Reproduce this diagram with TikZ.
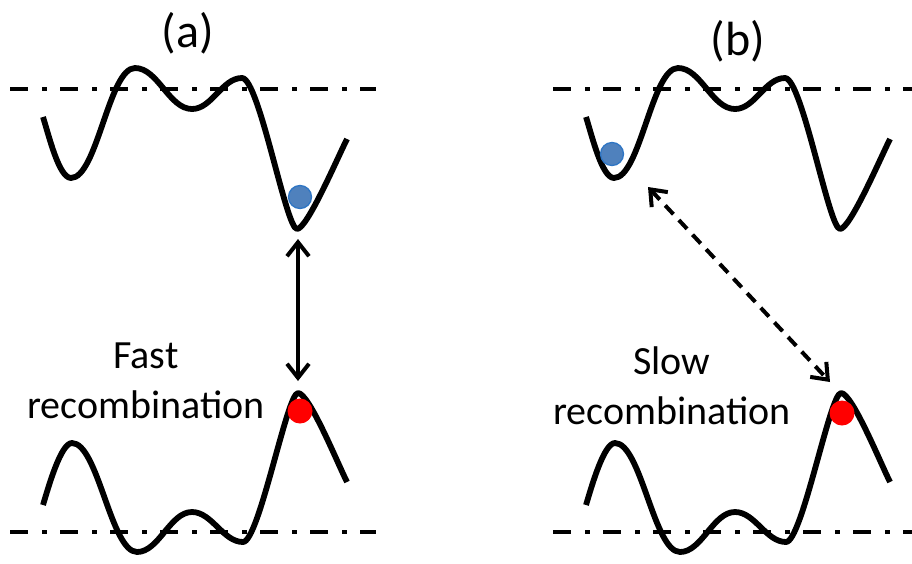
\documentclass[tikz,border=0pt]{standalone}
\usepackage{fontspec}
\setmainfont{Carlito}
\usetikzlibrary{arrows.meta}
\definecolor{dotblue}{HTML}{4F81BD}
\definecolor{dotedge}{HTML}{2E75C4}
\definecolor{dotred}{HTML}{FF0000}
\tikzset{
  curve/.style={line width=5.8pt, line join=round},
  level/.style={line width=4.2pt, dash pattern=on 18pt off 14pt on 5pt off 13pt},
  electron/.style={circle, fill=dotblue, draw=dotedge, line width=1.3pt, minimum size=23pt, inner sep=0pt},
  hole/.style={circle, fill=dotred, minimum size=25pt, inner sep=0pt},
  label/.style={font=\fontsize{40}{40}\selectfont, anchor=base, inner sep=0pt},
  title/.style={font=\fontsize{48}{48}\selectfont, anchor=base, inner sep=0pt},
  barb/.style={{Straight Barb[length=14pt,width=22pt]}-{Straight Barb[length=14pt,width=22pt]}, line width=4pt},
}
\begin{document}
\begin{tikzpicture}[x=1pt,y=-1pt]
\useasboundingbox (0,0) rectangle (912,563);
% level lines
\draw[level] (10,89) -- (376,89);
\draw[level] (10,532) -- (376,532);
\draw[level] (553,89) -- (912,89);
\draw[level] (553,532) -- (912,532);
% curves (a) and (b)
\foreach \s in {0,543}{
\begin{scope}[xshift=\s pt]
\draw[curve] (43,117) .. controls (49,136) and (59,178) .. (71,178)
  .. controls (97,178) and (109,68) .. (135,68)
  .. controls (158,68) and (169,109) .. (192,109)
  .. controls (212,109) and (222,78) .. (242,78)
  .. controls (259,78) and (286,229) .. (297,229)
  .. controls (307,229) and (337,159) .. (347,139);
\draw[curve] (43,505) .. controls (49,485) and (61,443) .. (72,443)
  .. controls (98,443) and (111,552) .. (137,552)
  .. controls (159,552) and (170,512) .. (192,512)
  .. controls (212,512) and (223,542) .. (243,542)
  .. controls (259,542) and (287,393) .. (298,393)
  .. controls (309,393) and (337,462) .. (347,482);
\end{scope}
}
% carriers
\node[electron] (ea) at (300,197) {};
\node[hole] (ha) at (300,411) {};
\node[electron] (eb) at (612,154) {};
\node[hole] (hb) at (842,413) {};
% arrow ends
\coordinate (a1) at (298,239);
\coordinate (a2) at (298,381);
\coordinate (b1) at (648,187);
\coordinate (b2) at (830,382);
\draw[barb] (a1) -- (a2);
\draw[barb, dash pattern=on 12pt off 8pt] (b1) -- (b2);
% texts
\node[title] (ta) at (188,47) {(a)};
\node[title] (tb) at (738,55) {(b)};
\node[label] (fa) at (146,368) {Fast};
\node[label] (ra) at (146,418) {recombination};
\node[label] (sb) at (672,374) {Slow};
\node[label] (rb) at (672,424) {recombination};
\end{tikzpicture}
\end{document}
